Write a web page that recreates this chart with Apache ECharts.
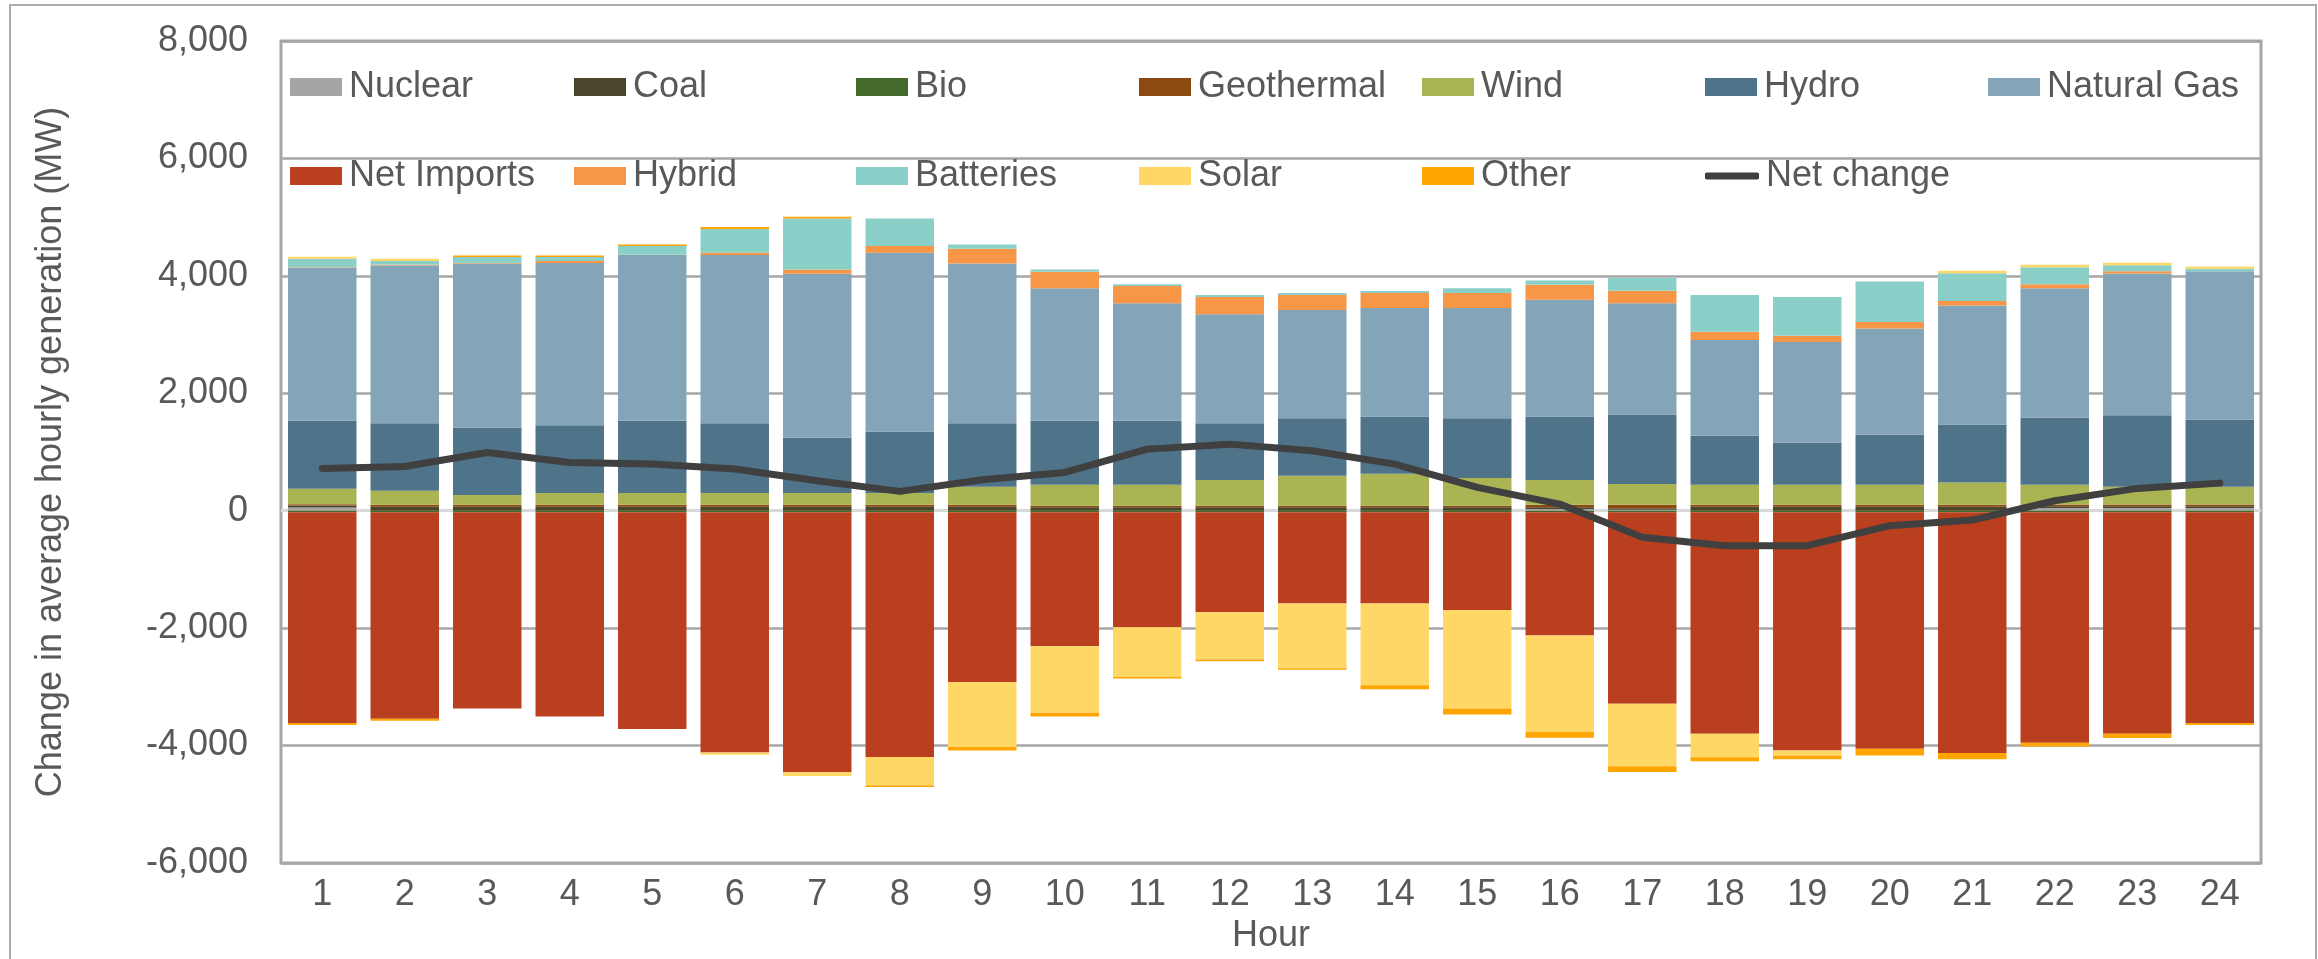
<!DOCTYPE html>
<html>
<head>
<meta charset="utf-8">
<script src="https://cdn.jsdelivr.net/npm/echarts@6/dist/echarts.min.js"></script>
<style>
  html, body { margin: 0; padding: 0; background: #ffffff; }
  #chart { width: 2318px; height: 959px; }
</style>
</head>
<body>
<div id="chart"></div>
<script>
// Hour of day
const hours = ['1','2','3','4','5','6','7','8','9','10','11','12','13','14','15','16','17','18','19','20','21','22','23','24'];

// Change in average hourly generation by resource (MW)
const nuclear    = [55, 0, 0, 0, 0, 0, 0, 0, 0, 0, 0, 0, 0, 0, 0, 30, 15, 0, 0, 0, 0, 45, 45, 45];
const coal       = [34, 68, 68, 68, 68, 68, 68, 68, 68, 60, 60, 60, 60, 60, 60, 30, 28, 68, 68, 68, 68, 30, 30, 30];
const bio        = [-28, -28, -28, -28, -28, -28, -28, -28, -28, -28, -28, -28, -28, -28, -28, -28, -28, -28, -28, -28, -28, -28, -28, -28];
const geothermal = [23, 34, 34, 34, 34, 34, 34, 34, 34, 25, 25, 25, 25, 25, 25, 40, 57, 34, 34, 34, 34, 30, 30, 30];
const wind       = [262, 238, 165, 199, 199, 198, 198, 198, 306, 357, 357, 437, 510, 544, 471, 422, 354, 340, 340, 340, 380, 337, 303, 303];
const hydro      = [1157, 1151, 1145, 1156, 1230, 1191, 941, 1049, 1083, 1089, 1089, 969, 981, 975, 1020, 1082, 1184, 834, 720, 851, 986, 1145, 1219, 1140];
const naturalGas = [2607, 2687, 2800, 2761, 2823, 2863, 2795, 3044, 2721, 2256, 2001, 1854, 1842, 1848, 1876, 1990, 1894, 1632, 1712, 1809, 2029, 2203, 2412, 2530];
const netImports = [-3589, -3515, -3339, -3475, -3691, -4088, -4428, -4167, -2891, -2279, -1956, -1701, -1554, -1554, -1661, -2098, -3260, -3770, -4054, -4025, -4099, -3923, -3770, -3589];
const hybrid     = [10, 10, 5, 34, 5, 40, 74, 114, 249, 283, 295, 294, 255, 255, 255, 255, 215, 142, 108, 112, 73, 68, 39, 0];
const batteries  = [143, 64, 103, 68, 148, 402, 867, 470, 74, 40, 28, 34, 34, 34, 80, 74, 216, 623, 657, 689, 474, 288, 102, 41];
const solar      = [34, 39, 0, 0, 0, -40, -62, -482, -1106, -1134, -850, -805, -1099, -1389, -1678, -1644, -1066, -403, -85, 0, 41, 45, 45, 39];
const other      = [-33, -34, 28, 28, 28, 34, 29, -28, -57, -62, -23, -28, -29, -68, -102, -96, -96, -68, -68, -114, -108, -63, -74, -34];
const netChange  = [720, 754, 992, 822, 794, 709, 510, 329, 527, 652, 1049, 1134, 1020, 794, 397, 113, -453, -595, -595, -255, -159, 170, 380, 470];

// Axis ticks
const yTicks = { min: -6000, max: 8000, step: 2000 };

const FONT = '"Liberation Sans", Arial, sans-serif';
const TEXT = '#595959';

const barDefs = [
  ['Nuclear', nuclear, '#A5A5A5'],
  ['Coal', coal, '#4A452B'],
  ['Bio', bio, '#436A2B'],
  ['Geothermal', geothermal, '#8C4A10'],
  ['Wind', wind, '#AAB452'],
  ['Hydro', hydro, '#4F7389'],
  ['Natural Gas', naturalGas, '#84A5B8'],
  ['Net Imports', netImports, '#B93F1F'],
  ['Hybrid', hybrid, '#F79646'],
  ['Batteries', batteries, '#8AD0C9'],
  ['Solar', solar, '#FED766'],
  ['Other', other, '#FFA500']
];

const series = barDefs.map(([name, data, color]) => ({
  name, type: 'bar', stack: 'gen', data,
  barCategoryGap: '17%',
  itemStyle: { color },
  z: 2
}));

series.push({
  name: 'Net change', type: 'line', data: netChange,
  showSymbol: false, symbol: 'none',
  lineStyle: { color: '#404040', width: 7, cap: 'round', join: 'round' },
  itemStyle: { color: '#404040' },
  z: 5,
  markLine: {
    silent: true, symbol: 'none', z: 1,
    label: { show: false },
    lineStyle: { color: '#D9D9D9', width: 3, type: 'solid' },
    data: [{ yAxis: 0 }]
  }
});

// Legend laid out as a two-row grid of fixed columns
const names = barDefs.map(d => d[0]).concat(['Net change']);
const colX = [290, 574, 856, 1139, 1422, 1705, 1988];
const legends = names.map((n, i) => {
  const row = i < 7 ? 0 : 1;
  const col = row === 0 ? i : i - 7;
  const isLine = n === 'Net change';
  return {
    data: [{ name: n, icon: isLine ? 'roundRect' : 'rect' }],
    left: colX[col],
    top: row === 0 ? 67 : 156,
    padding: 0,
    itemWidth: isLine ? 54 : 52,
    itemHeight: isLine ? 7 : 18,
    itemGap: 0,
    selectedMode: false,
    textStyle: { fontFamily: FONT, fontSize: 36, color: TEXT, lineHeight: 40, padding: [0, 0, 0, 2] }
  };
});

const chart = echarts.init(document.getElementById('chart'), null, { renderer: 'canvas' });
chart.setOption({
  animation: false,
  backgroundColor: '#ffffff',
  graphic: [{
    type: 'rect', silent: true, z: -10,
    shape: { x: 10, y: 5, width: 2306, height: 958 },
    style: { fill: 'none', stroke: '#ABABAB', lineWidth: 2 }
  }],
  grid: {
    left: 281, right: 57, top: 41, bottom: 95,
    show: true, borderColor: '#A6A6A6', borderWidth: 3, backgroundColor: 'transparent'
  },
  legend: legends,
  xAxis: {
    type: 'category', data: hours,
    name: 'Hour', nameLocation: 'middle', nameGap: 55,
    nameTextStyle: { fontFamily: FONT, fontSize: 36, color: TEXT },
    axisLine: { show: false, onZero: false },
    axisTick: { show: false },
    axisLabel: { fontFamily: FONT, fontSize: 36, color: TEXT, margin: 14 }
  },
  yAxis: {
    type: 'value', min: yTicks.min, max: yTicks.max, interval: yTicks.step,
    name: 'Change in average hourly generation (MW)', nameLocation: 'middle', nameGap: 212,
    nameTextStyle: { fontFamily: FONT, fontSize: 36, color: TEXT },
    axisLine: { show: false },
    axisTick: { show: false },
    splitLine: { show: true, lineStyle: { color: '#A6A6A6', width: 2.5 } },
    axisLabel: {
      fontFamily: FONT, fontSize: 36, color: TEXT, margin: 33,
      formatter: v => v.toLocaleString('en-US')
    }
  },
  series
});
</script>
</body>
</html>
